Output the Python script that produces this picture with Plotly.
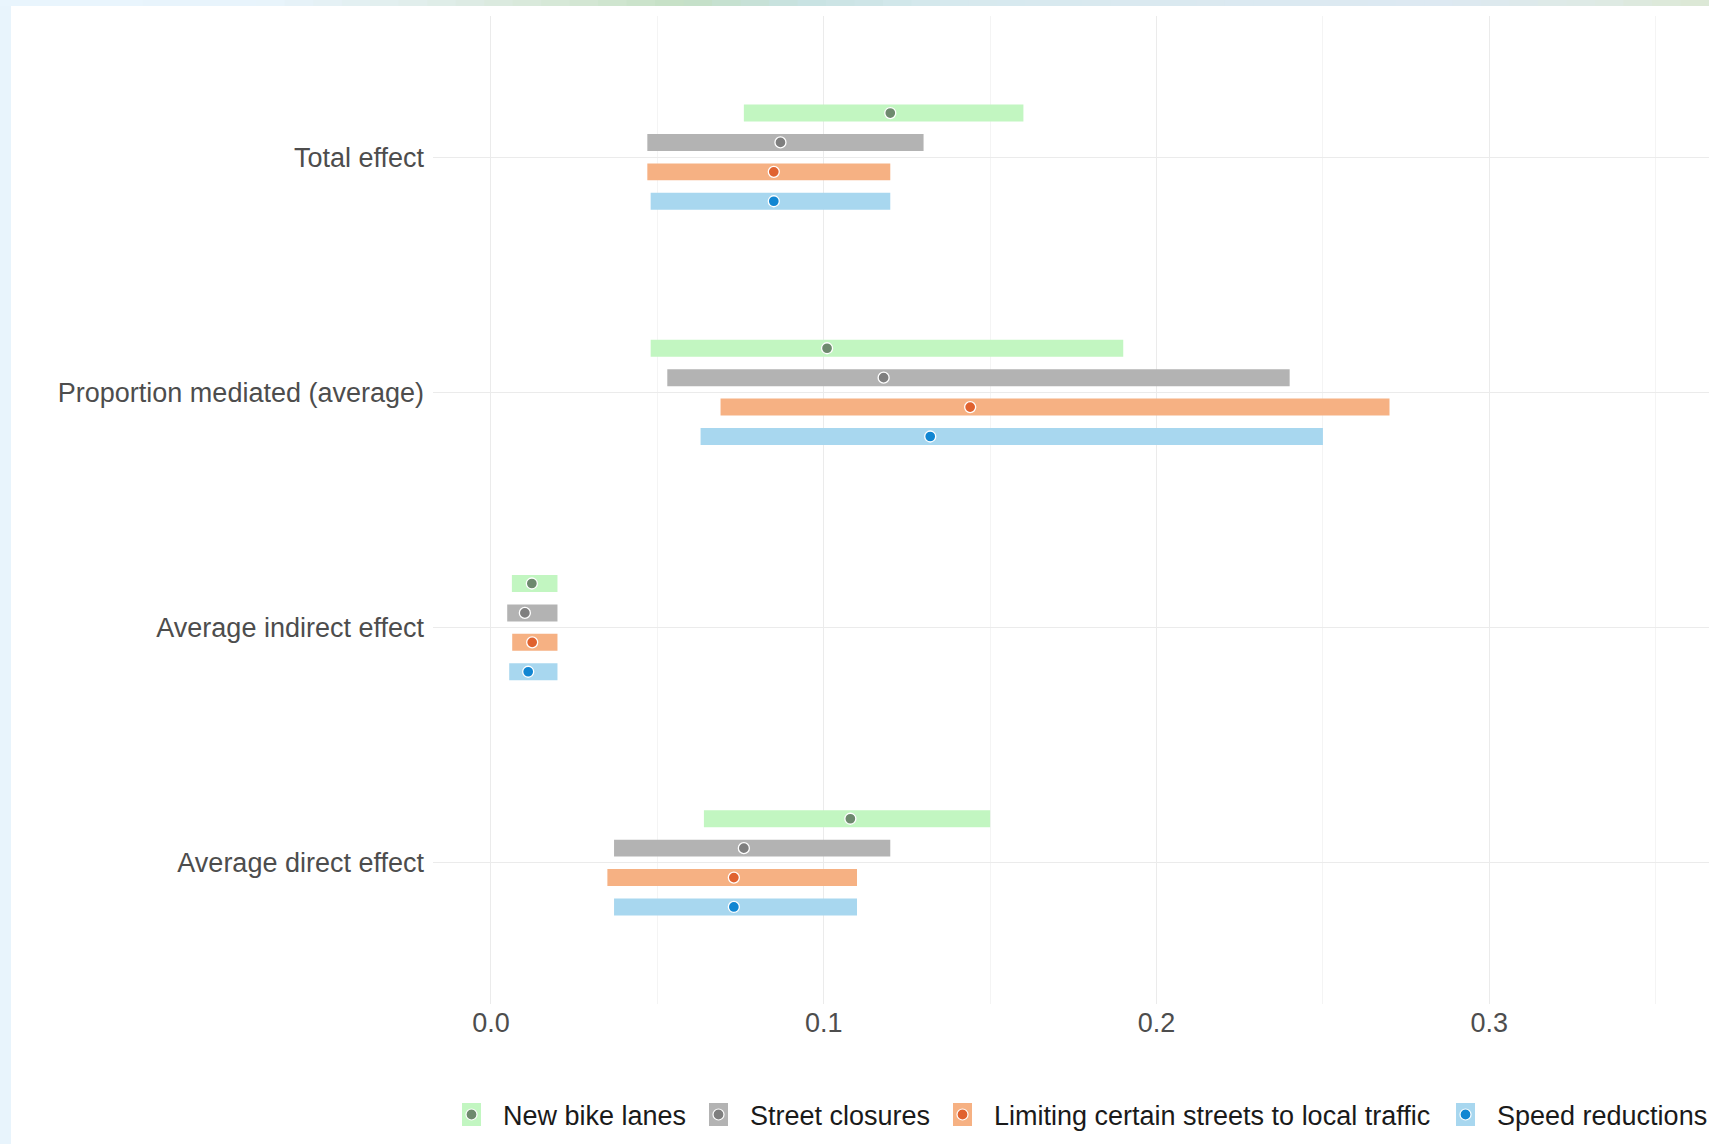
import plotly.graph_objects as go

# Mediation estimates with 95% intervals, one row per effect (top to bottom)
categories = [
    "Total effect",
    "Proportion mediated (average)",
    "Average indirect effect",
    "Average direct effect",
]

series_names = [
    "New bike lanes",
    "Street closures",
    "Limiting certain streets to local traffic",
    "Speed reductions",
]

bike_est = [0.120, 0.101, 0.0123, 0.108]
bike_lo = [0.076, 0.048, 0.0063, 0.064]
bike_hi = [0.160, 0.190, 0.020, 0.150]

closure_est = [0.087, 0.118, 0.0102, 0.076]
closure_lo = [0.047, 0.053, 0.0049, 0.037]
closure_hi = [0.130, 0.240, 0.020, 0.120]

local_est = [0.085, 0.144, 0.0124, 0.073]
local_lo = [0.047, 0.069, 0.0064, 0.035]
local_hi = [0.120, 0.270, 0.020, 0.110]

speed_est = [0.085, 0.132, 0.0112, 0.073]
speed_lo = [0.048, 0.063, 0.0055, 0.037]
speed_hi = [0.120, 0.250, 0.020, 0.110]

x_ticks = [0.0, 0.1, 0.2, 0.3]

ests = [bike_est, closure_est, local_est, speed_est]
los = [bike_lo, closure_lo, local_lo, speed_lo]
his = [bike_hi, closure_hi, local_hi, speed_hi]

bar_colors = ["#c2f6c1", "#b3b3b3", "#f6b183", "#a8d7ef"]
dot_colors = ["#6e8a6e", "#7f7f7f", "#e0622f", "#1186d2"]
dodge = [0.1875, 0.0625, -0.0625, -0.1875]

# category positions on a numeric axis, first category at the top
n_cat = len(categories)
cat_pos = [n_cat - i for i in range(n_cat)]

W, H = 1709, 1144
ML, MR, MT, MB = 433, 0, 16, 140
PW, PH = W - ML - MR, H - MT - MB


def px_x(p):
    return (p - ML) / PW


def px_y(p):
    return (H - MB - p) / PH


fig = go.Figure()

for s in range(len(series_names)):
    ypos = [c + dodge[s] for c in cat_pos]
    fig.add_trace(go.Bar(
        y=ypos,
        x=[h - l for h, l in zip(his[s], los[s])],
        base=los[s],
        orientation="h",
        width=0.072,
        marker=dict(color=bar_colors[s], line=dict(width=0)),
        showlegend=False,
        hoverinfo="skip",
    ))
for s in range(len(series_names)):
    ypos = [c + dodge[s] for c in cat_pos]
    fig.add_trace(go.Scatter(
        y=ypos,
        x=ests[s],
        mode="markers",
        marker=dict(size=11, color=dot_colors[s], line=dict(color="white", width=1.3)),
        showlegend=False,
        name=series_names[s],
    ))

shapes = []
# white page with a thin tinted frame on the top and left
shapes.append(dict(type="rect", xref="paper", yref="paper",
                   x0=px_x(11), x1=px_x(W), y0=px_y(H), y1=px_y(6),
                   fillcolor="white", line=dict(width=0), layer="below"))
top_stops = [
    (0, (233, 245, 253)), (260, (232, 244, 252)), (430, (224, 237, 234)),
    (560, (214, 232, 214)), (680, (197, 224, 197)), (800, (200, 226, 226)),
    (950, (214, 233, 238)), (1150, (218, 233, 240)), (1450, (221, 233, 242)),
    (1600, (222, 234, 228)), (1709, (220, 232, 212)),
]
nseg = 60
for k in range(nseg):
    xa = W * k / nseg
    xb = W * (k + 1) / nseg
    xm = (xa + xb) / 2
    for j in range(len(top_stops) - 1):
        if top_stops[j][0] <= xm <= top_stops[j + 1][0]:
            t = (xm - top_stops[j][0]) / (top_stops[j + 1][0] - top_stops[j][0])
            c = [round(top_stops[j][1][i] + t * (top_stops[j + 1][1][i] - top_stops[j][1][i])) for i in range(3)]
            break
    shapes.append(dict(type="rect", xref="paper", yref="paper",
                       x0=px_x(xa), x1=px_x(xb + 1), y0=px_y(6), y1=px_y(0),
                       fillcolor="rgb(%d,%d,%d)" % tuple(c), line=dict(width=0), layer="below"))

# legend keys: tile in the bar colour with a dot in the point colour
annotations = []
key_left = [462, 709, 953, 1456]
key_w, key_top, key_bot = 19, 1103, 1126
for s in range(len(series_names)):
    x0 = key_left[s]
    shapes.append(dict(type="rect", xref="paper", yref="paper",
                       x0=px_x(x0), x1=px_x(x0 + key_w), y0=px_y(key_bot), y1=px_y(key_top),
                       fillcolor=bar_colors[s], line=dict(width=0), layer="above"))
    cx, cy = x0 + key_w / 2, (key_top + key_bot) / 2
    shapes.append(dict(type="circle", xref="paper", yref="paper",
                       x0=px_x(cx - 5.5), x1=px_x(cx + 5.5), y0=px_y(cy + 5.5), y1=px_y(cy - 5.5),
                       fillcolor=dot_colors[s], line=dict(color="white", width=1.2), layer="above"))
    annotations.append(dict(xref="paper", yref="paper", x=px_x(x0 + key_w + 20), y=px_y(cy + 1),
                            text=series_names[s], showarrow=False, xanchor="left", yanchor="middle",
                            font=dict(size=27, color="#1a1a1a", family="Liberation Sans, Arial, sans-serif")))

fig.update_layout(
    width=W, height=H,
    margin=dict(l=ML, r=MR, t=MT, b=MB, pad=0),
    paper_bgcolor="rgb(232,244,252)",
    plot_bgcolor="rgba(0,0,0,0)",
    barmode="overlay",
    font=dict(family="Liberation Sans, Arial, sans-serif", size=27, color="#4d4d4d"),
    shapes=shapes,
    annotations=annotations,
    showlegend=False,
)

fig.update_xaxes(
    range=[-0.0174, 0.366],
    tickvals=x_ticks,
    ticktext=["%.1f" % v for v in x_ticks],
    showgrid=True, gridcolor="#ebebeb", gridwidth=1.3,
    minor=dict(tickvals=[0.05, 0.15, 0.25, 0.35], showgrid=True, gridcolor="#f4f4f4", gridwidth=1.1),
    zeroline=False, showline=False, ticks="",
    tickfont=dict(size=27, color="#4d4d4d"),
    ticklabelstandoff=0,
)
fig.update_yaxes(
    range=[0.4, n_cat + 0.6],
    tickvals=cat_pos,
    ticktext=categories,
    showgrid=True, gridcolor="#ebebeb", gridwidth=1.3,
    zeroline=False, showline=False, ticks="",
    tickfont=dict(size=27, color="#4d4d4d"),
    ticklabelstandoff=8,
)

fig.update_layout(font_family="Liberation Sans, Arial, sans-serif")
fig.write_html("out.html")
